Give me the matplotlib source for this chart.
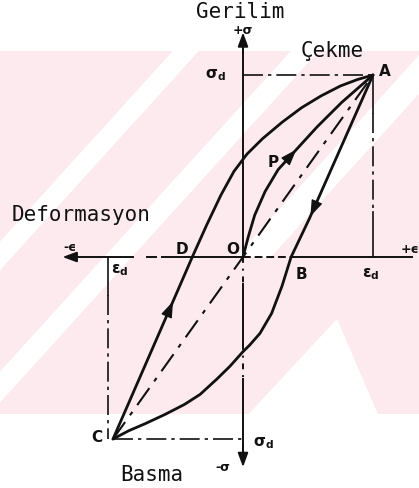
import matplotlib
matplotlib.use("Agg")
import matplotlib.pyplot as plt
from matplotlib.patches import Polygon

# Hysteresis loop, values in units of eps_d / sigma_d
loading_eps = [0.0, 0.04, 0.09, 0.17, 0.27, 0.41, 0.57, 0.76, 1.0]          # O -> P -> A
loading_sig = [0.0, 0.11, 0.23, 0.36, 0.48, 0.59, 0.715, 0.85, 1.0]

unload_eps = [1.0, 0.51, 0.37, 0.3, 0.22, 0.13, 0.05, 0.0, -0.1, -0.2, -0.33, -0.45, -0.6, -0.75, -0.88, -1.0]   # A -> B -> C
unload_sig = [1.0, 0.21, 0.0, -0.16, -0.31, -0.42, -0.485, -0.52, -0.6, -0.67, -0.755, -0.81, -0.865, -0.915, -0.955, -1.0]

reload_eps = [-1.0, -0.53, -0.39, -0.28, -0.17, -0.07, 0.03, 0.15, 0.3, 0.45, 0.6, 0.75, 0.88, 1.0]   # C -> D -> A
reload_sig = [-1.0, -0.23, 0.0, 0.175, 0.34, 0.47, 0.565, 0.65, 0.74, 0.82, 0.885, 0.94, 0.975, 1.0]

secant_eps = [-1.0, 1.0]   # C - O - A
secant_sig = [-1.0, 1.0]

eps_d = 1.0
sig_d = 1.0

# arrow index on each branch (arrow head drawn at that point)
arrow_loading = 5
arrow_unload = 1
arrow_reload = 1

W, H = 419, 489
fig = plt.figure(figsize=(W / 100, H / 100), dpi=100)
ax = fig.add_axes([0, 0, 1, 1])
x0, y0, sx, sy = 243, 258, 130.0, 182.0
ax.set_xlim(-x0 / sx, (W - x0) / sx)
ax.set_ylim(-(H - y0) / sy, y0 / sy)
ax.axis("off")


def px(x, y):
    return ((x - x0) / sx, (y0 - y) / sy)


# faint watermark in the background
pink = "#fdeaee"
k = 0.907
top, bot = 52, 415
ax.add_patch(Polygon([px(0, top), px(W, top), px(W, bot), px(0, bot)], color=pink, lw=0, zorder=0))
for a, b, y1, y2 in [(220, 246, top, bot), (338, 366, top, bot), (470, 505, top, 258)]:
    ax.add_patch(Polygon([px(a - k * y1, y1), px(b - k * y1, y1), px(b - k * y2, y2), px(a - k * y2, y2)],
                         color="white", lw=0, zorder=0.5))
ax.add_patch(Polygon([px(337, 320), px(337 + 0.43 * 95, bot), px(625 - k * bot, bot)],
                     color="white", lw=0, zorder=0.5))

ink = "#111111"
lw_curve = 2.0
lw_axis = 1.4
lw_guide = 1.2

# axes
ax.plot([-0.85, -1.35], [0, 0], color=ink, lw=lw_axis)
ax.plot([-0.74, -0.67], [0, 0], color=ink, lw=lw_axis)
ax.plot([-0.62, 0], [0, 0], color=ink, lw=lw_axis)
ax.plot([0, 0.37], [0, 0], color=ink, lw=lw_axis, ls=(0, (4, 2)))
ax.plot([0.37, 1.30], [0, 0], color=ink, lw=lw_axis)
ax.plot([0, 0], [0, 1.18], color=ink, lw=lw_axis)
ax.plot([0, 0], [0, -0.15], color=ink, lw=lw_axis, ls=(0, (3, 3, 1, 3)))
ax.plot([0, 0], [-0.15, -0.48], color=ink, lw=lw_axis)
ax.plot([0, 0], [-0.48, -0.67], color=ink, lw=lw_axis, ls=(0, (3, 3, 1, 3)))
ax.plot([0, 0], [-0.67, -1.10], color=ink, lw=lw_axis)
arrow_kw = dict(arrowstyle="-|>,head_length=0.6,head_width=0.22", color=ink, lw=lw_axis, mutation_scale=14)
ax.annotate("", xy=(-1.41, 0), xytext=(-1.25, 0), arrowprops=arrow_kw)
ax.annotate("", xy=(1.36, 0), xytext=(1.2, 0), arrowprops=arrow_kw)
ax.annotate("", xy=(0, 1.25), xytext=(0, 1.1), arrowprops=arrow_kw)
ax.annotate("", xy=(0, -1.17), xytext=(0, -1.02), arrowprops=arrow_kw)

# guide lines at eps_d / sigma_d
dashdot = (0, (12, 3, 2, 3))
ax.plot([0, eps_d], [sig_d, sig_d], color=ink, lw=lw_guide, ls=dashdot)
ax.plot([eps_d, eps_d], [sig_d, 0.79], color=ink, lw=lw_guide)
ax.plot([eps_d, eps_d], [0.79, 0.25], color=ink, lw=lw_guide, ls=dashdot)
ax.plot([eps_d, eps_d], [0.25, 0], color=ink, lw=lw_guide)
ax.plot([-eps_d * 1.04, -eps_d * 1.04], [0, -0.21], color=ink, lw=lw_guide)
ax.plot([-eps_d * 1.04, -eps_d * 1.04], [-0.21, -sig_d], color=ink, lw=lw_guide, ls=dashdot)
ax.plot([-eps_d, 0], [-sig_d, -sig_d], color=ink, lw=lw_guide, ls=dashdot)

# curves
ax.plot(secant_eps, secant_sig, color=ink, lw=1.5, ls=(0, (10, 4, 2, 4)))
for xs, ys in [(loading_eps, loading_sig), (unload_eps, unload_sig), (reload_eps, reload_sig)]:
    ax.plot(xs, ys, color=ink, lw=lw_curve, solid_capstyle="round", solid_joinstyle="round")

head_kw = dict(arrowstyle="-|>,head_length=0.7,head_width=0.25", color=ink, lw=1.0, mutation_scale=14)
for xs, ys, i in [(loading_eps, loading_sig, arrow_loading),
                  (unload_eps, unload_sig, arrow_unload),
                  (reload_eps, reload_sig, arrow_reload)]:
    dx, dy = xs[i] - xs[i - 1], ys[i] - ys[i - 1]
    ax.annotate("", xy=(xs[i], ys[i]), xytext=(xs[i] - 0.12 * dx, ys[i] - 0.12 * dy), arrowprops=head_kw)

# labels
mono = "DejaVu Sans Mono"
big = dict(family=mono, fontsize=15, color=ink)
small = dict(fontsize=11, color=ink, fontweight="bold")
ax.text(-0.02, 1.35, "Gerilim", ha="center", va="center", **big)
ax.text(0, 1.25, "+σ", ha="center", va="center", fontsize=9, color=ink, fontweight="bold")
ax.text(0.685, 1.14, "Çekme", ha="center", va="center", **big)
ax.text(-1.78, 0.236, "Deformasyon", ha="left", va="center", **big)
ax.text(-0.7, -1.19, "Basma", ha="center", va="center", **big)
ax.text(-0.154, -1.15, "-σ", ha="center", va="center", fontsize=9, color=ink, fontweight="bold")
ax.text(-1.33, 0.055, "-ϵ", ha="center", va="center", fontsize=9, color=ink, fontweight="bold")
ax.text(1.21, 0.045, "+ϵ", ha="left", va="center", fontsize=9, color=ink, fontweight="bold")
ax.text(-0.215, 1.005, r"$\mathbf{\sigma_d}$", ha="center", va="center", **small)
ax.text(0.154, -1.02, r"$\mathbf{\sigma_d}$", ha="center", va="center", **small)
ax.text(0.985, -0.09, r"$\mathbf{\epsilon_d}$", ha="center", va="center", **small)
ax.text(-0.946, -0.066, r"$\mathbf{\epsilon_d}$", ha="center", va="center", **small)
for lab, x, y in [("A", 1.092, 1.022), ("P", 0.231, 0.527), ("D", -0.469, 0.049),
                  ("O", -0.077, 0.049), ("B", 0.446, -0.088), ("C", -1.123, -0.989)]:
    ax.text(x, y, lab, ha="center", va="center", **small)

fig.savefig("out.png", dpi=100)
